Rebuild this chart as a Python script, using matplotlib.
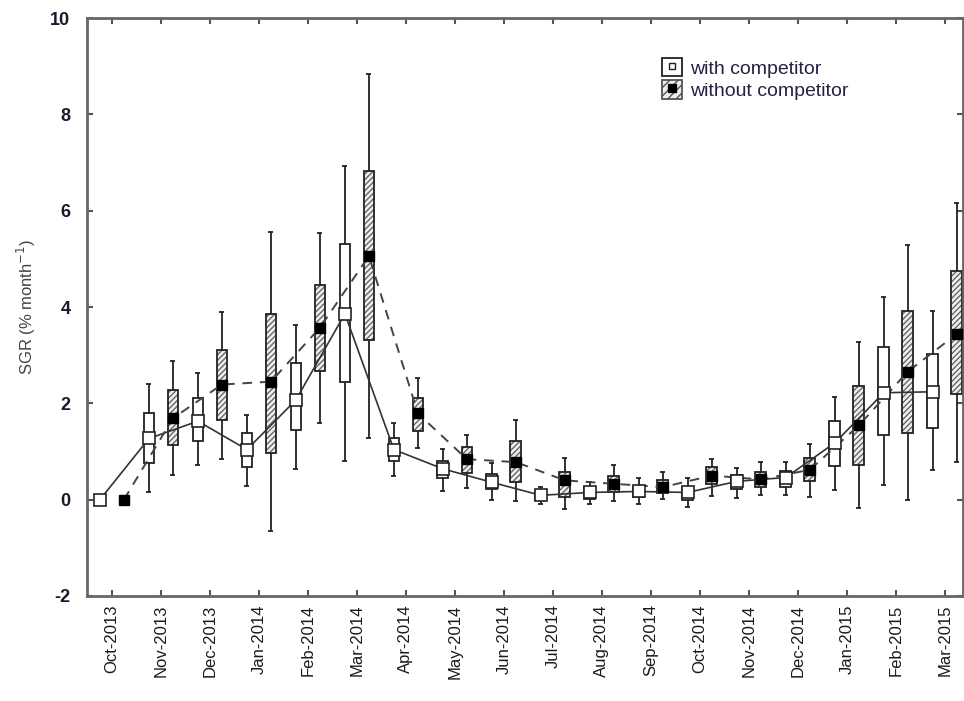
import numpy as np
import matplotlib
matplotlib.use('Agg')
import matplotlib.pyplot as plt
from matplotlib.patches import Patch
from matplotlib.lines import Line2D
from matplotlib.legend_handler import HandlerTuple

plt.rcParams['font.family'] = ['Liberation Sans', 'DejaVu Sans']
plt.rcParams['axes.unicode_minus'] = False

# Месяцы (подписи оси X)
months = ['Oct-2013', 'Nov-2013', 'Dec-2013', 'Jan-2014', 'Feb-2014', 'Mar-2014',
          'Apr-2014', 'May-2014', 'Jun-2014', 'Jul-2014', 'Aug-2014', 'Sep-2014',
          'Oct-2014', 'Nov-2014', 'Dec-2014', 'Jan-2015', 'Feb-2015', 'Mar-2015']

# with competitor: медиана, квартили, усы
med_with = [0, 1.27, 1.63, 1.04, 2.07, 3.86, 1.04, 0.64, 0.36, 0.09, 0.15, 0.17, 0.15, 0.38, 0.46, 1.18, 2.22, 2.24]
q1_with = [0, 0.76, 1.22, 0.68, 1.45, 2.45, 0.80, 0.44, 0.22, 0.00, 0.02, 0.05, 0.00, 0.22, 0.27, 0.70, 1.34, 1.48]
q3_with = [0, 1.79, 2.11, 1.38, 2.83, 5.31, 1.29, 0.81, 0.53, 0.19, 0.27, 0.27, 0.25, 0.52, 0.59, 1.64, 3.16, 3.03]
lo_with = [0, 0.16, 0.72, 0.28, 0.64, 0.81, 0.49, 0.18, 0.00, -0.09, -0.08, -0.09, -0.16, 0.03, 0.10, 0.20, 0.30, 0.62]
hi_with = [0, 2.41, 2.63, 1.75, 3.63, 6.92, 1.59, 1.06, 0.76, 0.27, 0.37, 0.44, 0.45, 0.66, 0.78, 2.14, 4.21, 3.91]

# without competitor
med_wo = [0, 1.69, 2.39, 2.45, 3.57, 5.06, 1.79, 0.84, 0.78, 0.40, 0.33, 0.26, 0.50, 0.42, 0.62, 1.54, 2.66, 3.44]
q1_wo = [0, 1.14, 1.65, 0.97, 2.67, 3.31, 1.43, 0.56, 0.37, 0.05, 0.15, 0.13, 0.33, 0.27, 0.38, 0.72, 1.38, 2.20]
q3_wo = [0, 2.27, 3.11, 3.86, 4.46, 6.83, 2.11, 1.09, 1.22, 0.58, 0.50, 0.40, 0.67, 0.58, 0.86, 2.36, 3.91, 4.74]
lo_wo = [0, 0.52, 0.85, -0.66, 1.59, 1.29, 1.08, 0.25, -0.03, -0.19, -0.02, 0.02, 0.08, 0.10, 0.06, -0.18, 0.00, 0.78]
hi_wo = [0, 2.87, 3.90, 5.55, 5.54, 8.84, 2.53, 1.35, 1.65, 0.87, 0.71, 0.58, 0.85, 0.78, 1.16, 3.28, 5.29, 6.16]

x = np.arange(len(months))
shift = 0.245
box_w = 0.22
cap_w = 0.05
edge = '#222222'

fig = plt.figure(figsize=(9.64, 7.01), dpi=100)
ax = fig.add_axes([0.0902, 0.1498, 0.9087, 0.8245])


def draw_boxes(xs, med, q1, q3, lo, hi, hatched):
    for xi, m, a, b, l, h in zip(xs, med, q1, q3, lo, hi):
        if a == b and l == h:
            continue  # без ящика (только точка)
        # усы
        ax.vlines(xi, l, a, color=edge, lw=1.3, zorder=2)
        ax.vlines(xi, b, h, color=edge, lw=1.3, zorder=2)
        ax.hlines([l, h], xi - cap_w, xi + cap_w, color=edge, lw=1.3, zorder=2)
        # ящик
        if hatched:
            ax.bar(xi, b - a, bottom=a, width=box_w, color='#f0f0f0',
                   edgecolor='#666666', hatch='//////', linewidth=0, zorder=2)
            ax.bar(xi, b - a, bottom=a, width=box_w, fill=False,
                   edgecolor=edge, linewidth=1.3, zorder=2.1)
        else:
            ax.bar(xi, b - a, bottom=a, width=box_w, color='white',
                   edgecolor=edge, linewidth=1.3, zorder=2)


draw_boxes(x - shift, med_with, q1_with, q3_with, lo_with, hi_with, False)
draw_boxes(x + shift, med_wo, q1_wo, q3_wo, lo_wo, hi_wo, True)

# линии через медианы
ax.plot(x - shift, med_with, color='#333333', lw=1.2, ls='-', zorder=3)
ax.plot(x + shift, med_wo, color='#444444', lw=1.4, ls=(0, (5, 4)), zorder=3)
ax.plot(x - shift, med_with, ls='none', marker='s', ms=8, mfc='white',
        mec=edge, mew=1.2, zorder=4)
ax.plot(x + shift, med_wo, ls='none', marker='s', ms=7.5, mfc='black',
        mec='black', zorder=4)

ax.set_xlim(-0.51, 17.37)
ax.set_ylim(-2, 10)
ax.set_yticks(np.arange(-2, 11, 2))
ax.set_xticks(x)
ax.set_xticklabels(months, rotation=90, fontsize=12, color='#1a1a1a')
ax.tick_params(direction='in', length=4, width=1.5, top=True, right=True,
               colors='#555555')
ax.tick_params(axis='y', labelsize=13, labelcolor='#1a1a2e', pad=12)
ax.tick_params(axis='x', labelcolor='#1a1a1a', pad=6)
for lbl in ax.get_yticklabels():
    lbl.set_fontweight('bold')
for s in ax.spines.values():
    s.set_color('#666666')
    s.set_linewidth(2)

ax.set_ylabel('SGR (% month$^{-1}$)', fontsize=12, color='#444444', labelpad=9)

h1 = (Patch(facecolor='white', edgecolor=edge, linewidth=1.3),
      Line2D([], [], ls='none', marker='s', ms=5, mfc='white', mec=edge))
h2 = (Patch(facecolor='#f0f0f0', edgecolor='#555555', hatch='////', linewidth=1.3),
      Line2D([], [], ls='none', marker='s', ms=6, mfc='black', mec='black'))
ax.legend([h1, h2], ['with competitor', 'without competitor'],
          handler_map={tuple: HandlerTuple(ndivide=1, pad=0)},
          loc='upper left', bbox_to_anchor=(0.648, 0.945), frameon=False,
          fontsize=14, handlelength=1.0, handleheight=1.1, handletextpad=0.4,
          labelspacing=0.15, borderaxespad=0, labelcolor='#222244')

plt.savefig('out.png', dpi=100)
